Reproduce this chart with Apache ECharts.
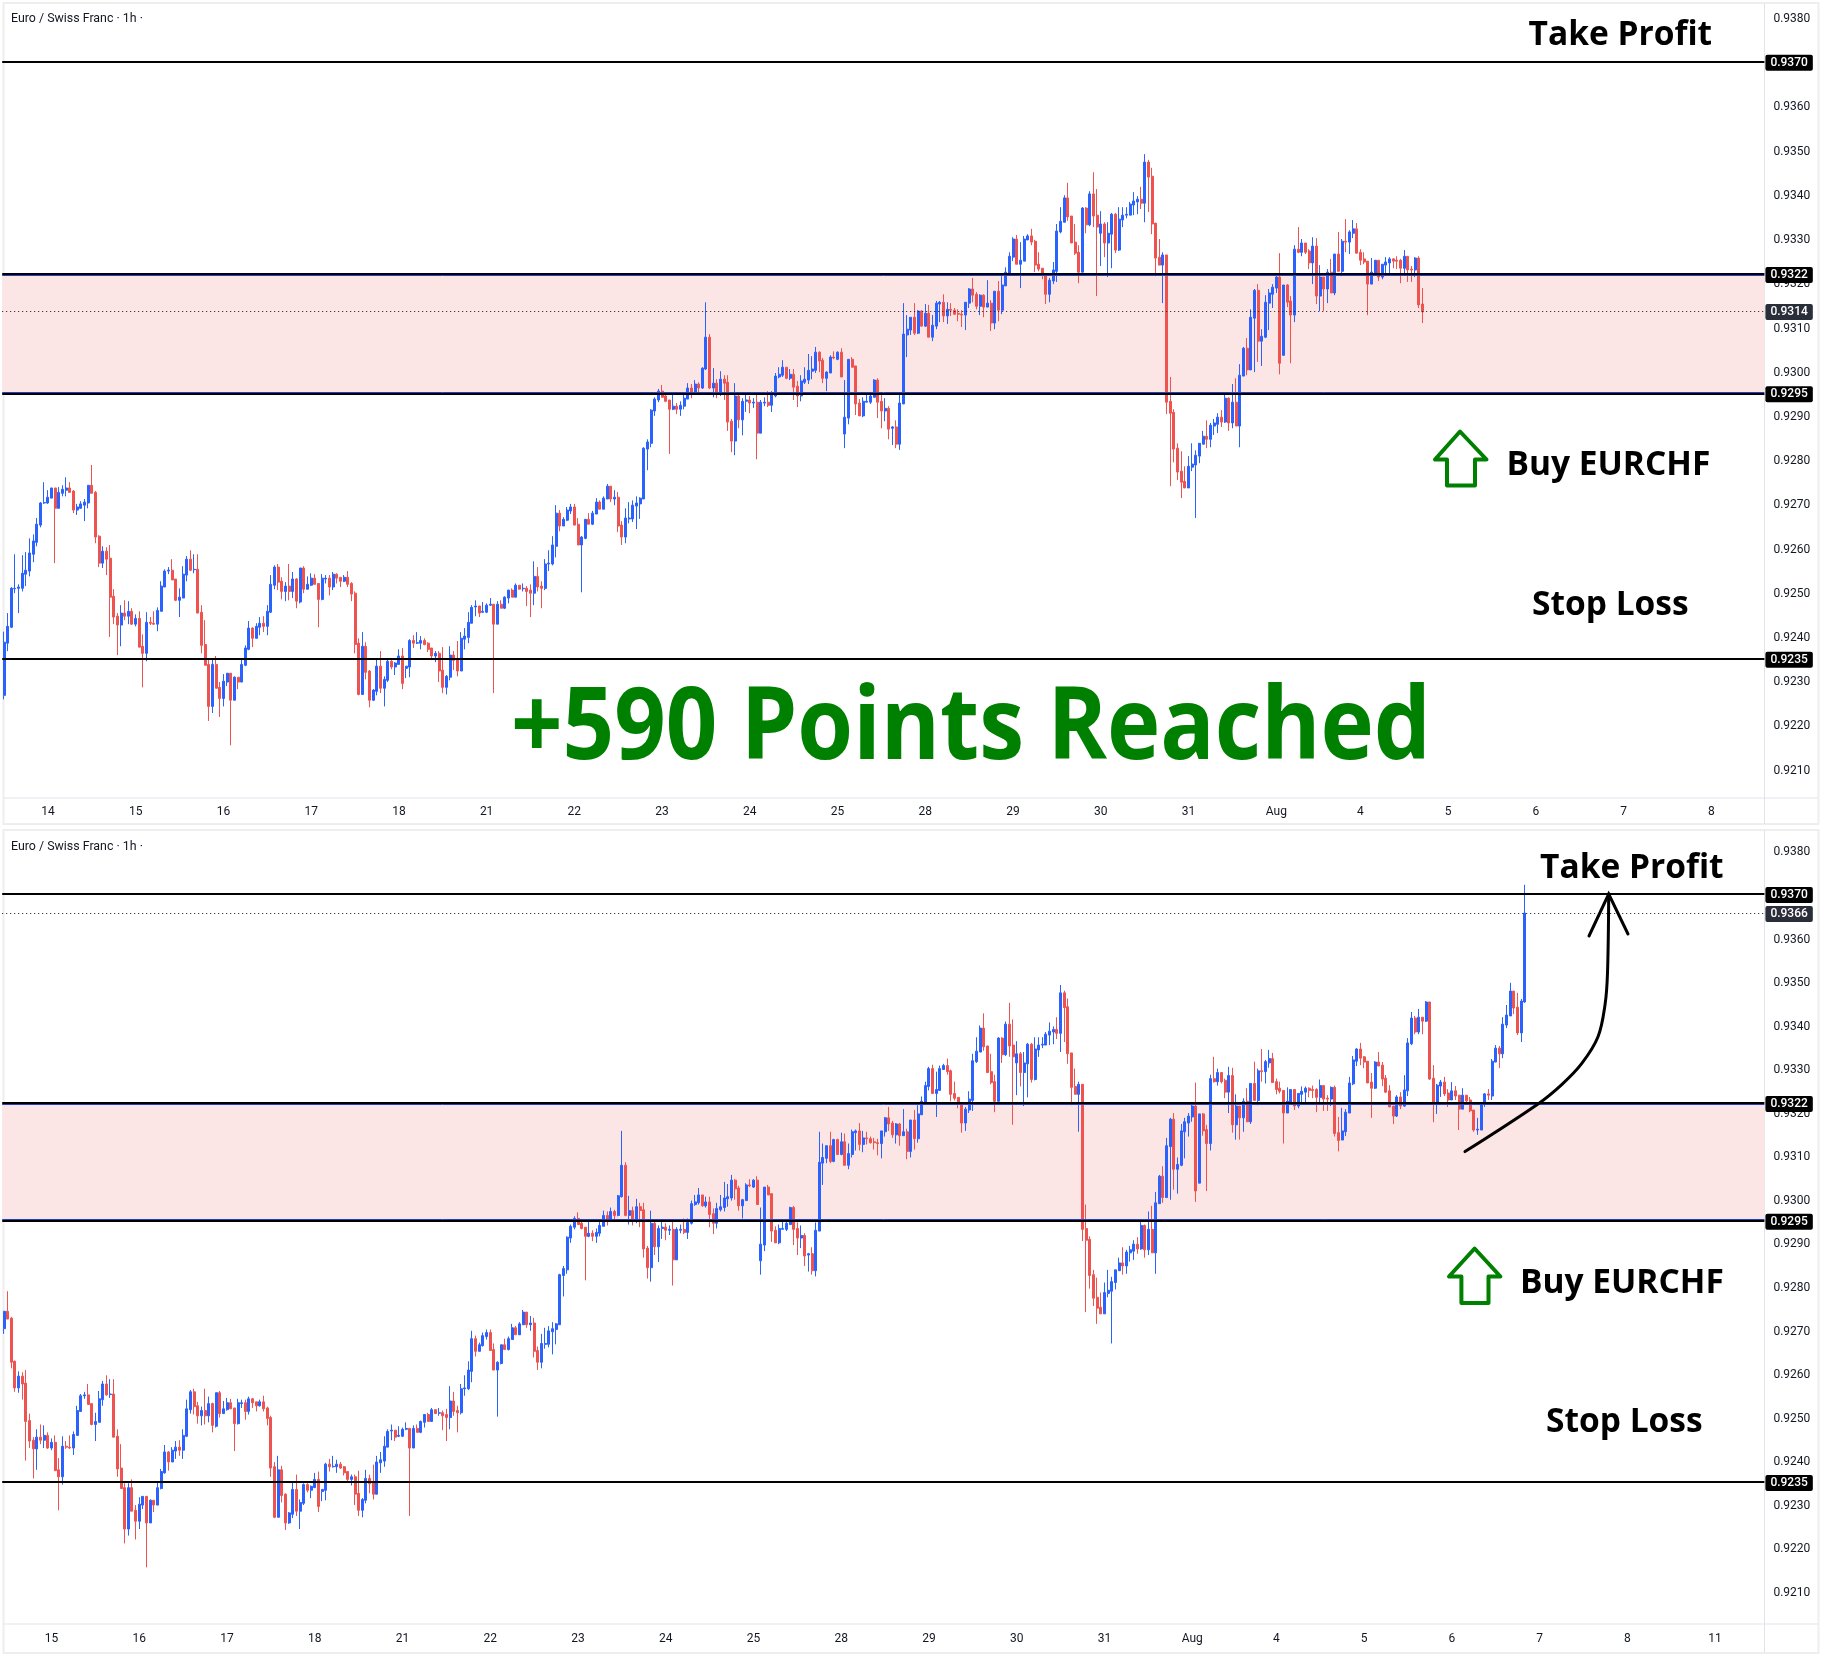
<!DOCTYPE html>
<html><head><meta charset="utf-8">
<style>html,body{margin:0;padding:0;background:#fff}#c{width:1824px;height:1655px}</style>
<script src="https://cdn.jsdelivr.net/npm/echarts@6/dist/echarts.min.js"></script>
</head><body><div id="c"></div>
<script>
// Hourly EUR/CHF candles: each row is [open, high, low, close]
const barsPart1 = [
[.92267,.92411,.92258,.92387],[.92385,.92453,.92367,.92423],[.92421,.92512,.92419,.92509],[.92508,.92586,.92498,.92509],[.92509,.92518,.92453,.92512],[.92509,.92584,.92502,.92543],[.92541,.92591,.92514,.92550],[.92548,.92622,.92536,.92589],[.92586,.92631,.92568,.92616],[.92613,.92668,.92604,.92654],
[.92652,.92704,.92647,.92702],[.92702,.92749,.92700,.92703],[.92702,.92731,.92700,.92715],[.92713,.92736,.92713,.92736],[.92736,.92736,.92566,.92690],[.92690,.92738,.92690,.92726],[.92724,.92742,.92717,.92733],[.92731,.92760,.92717,.92736],[.92736,.92749,.92726,.92726],[.92729,.92731,.92679,.92686],
[.92686,.92700,.92675,.92693],[.92690,.92706,.92690,.92700],[.92697,.92711,.92661,.92704],[.92702,.92742,.92690,.92742],[.92742,.92788,.92724,.92724],[.92726,.92729,.92611,.92625],[.92627,.92629,.92557,.92566],[.92566,.92604,.92555,.92593],[.92593,.92602,.92539,.92575],[.92577,.92607,.92399,.92489],
[.92491,.92507,.92428,.92444],[.92446,.92453,.92358,.92426],[.92426,.92471,.92378,.92453],[.92453,.92482,.92437,.92446],[.92446,.92480,.92428,.92457],[.92457,.92464,.92426,.92428],[.92428,.92450,.92423,.92441],[.92441,.92457,.92376,.92376],[.92378,.92405,.92285,.92362],[.92362,.92455,.92344,.92432],
[.92432,.92444,.92426,.92430],[.92430,.92457,.92426,.92428],[.92428,.92466,.92412,.92459],[.92457,.92525,.92457,.92514],[.92512,.92552,.92512,.92548],[.92548,.92557,.92541,.92550],[.92550,.92575,.92528,.92528],[.92530,.92530,.92480,.92482],[.92482,.92509,.92444,.92489],[.92487,.92559,.92487,.92541],
[.92539,.92582,.92525,.92575],[.92575,.92595,.92548,.92550],[.92551,.92586,.92543,.92552],[.92552,.92586,.92453,.92453],[.92455,.92471,.92362,.92380],[.92382,.92437,.92335,.92335],[.92337,.92347,.92209,.92242],[.92242,.92347,.92227,.92337],[.92337,.92356,.92283,.92283],[.92285,.92297,.92218,.92260]];
const barsPart2 = [
[.92260,.92315,.92242,.92299],[.92297,.92317,.92288,.92317],[.92317,.92317,.92154,.92256],[.92256,.92310,.92256,.92308],[.92308,.92308,.92281,.92297],[.92297,.92351,.92297,.92337],[.92335,.92380,.92333,.92374],[.92371,.92435,.92369,.92419],[.92419,.92421,.92376,.92396],[.92396,.92430,.92396,.92423],
[.92421,.92444,.92403,.92430],[.92430,.92446,.92410,.92423],[.92423,.92471,.92403,.92457],[.92455,.92539,.92453,.92518],[.92516,.92561,.92507,.92557],[.92557,.92564,.92505,.92523],[.92525,.92534,.92484,.92502],[.92502,.92523,.92480,.92514],[.92514,.92564,.92482,.92502],[.92502,.92546,.92487,.92530],
[.92530,.92532,.92464,.92480],[.92478,.92555,.92475,.92555],[.92555,.92559,.92498,.92507],[.92507,.92536,.92507,.92518],[.92516,.92543,.92514,.92532],[.92532,.92541,.92518,.92518],[.92520,.92520,.92421,.92484],[.92484,.92541,.92482,.92532],[.92530,.92539,.92520,.92532],[.92532,.92539,.92493,.92512],
[.92512,.92546,.92505,.92541],[.92541,.92543,.92520,.92532],[.92534,.92534,.92512,.92525],[.92525,.92539,.92523,.92534],[.92534,.92548,.92512,.92518],[.92520,.92523,.92480,.92496],[.92498,.92502,.92362,.92382],[.92385,.92396,.92267,.92269],[.92269,.92410,.92269,.92378],[.92378,.92387,.92303,.92319],
[.92322,.92324,.92240,.92256],[.92256,.92281,.92254,.92279],[.92276,.92349,.92267,.92333],[.92333,.92367,.92272,.92283],[.92283,.92310,.92242,.92303],[.92301,.92347,.92297,.92344],[.92344,.92347,.92326,.92331],[.92331,.92342,.92313,.92340],[.92337,.92371,.92337,.92356],[.92356,.92374,.92281,.92294],
[.92328,.92333,.92306,.92333],[.92331,.92394,.92308,.92391],[.92391,.92403,.92374,.92385],[.92385,.92410,.92383,.92386],[.92385,.92401,.92371,.92391],[.92391,.92396,.92380,.92382],[.92385,.92387,.92365,.92371],[.92374,.92374,.92349,.92356],[.92356,.92367,.92342,.92362],[.92362,.92367,.92297,.92322],
[.92324,.92376,.92272,.92285],[.92285,.92313,.92269,.92310],[.92308,.92378,.92301,.92358],[.92358,.92367,.92324,.92346],[.92348,.92390,.92310,.92322],[.92322,.92410,.92322,.92396],[.92394,.92419,.92371,.92401],[.92398,.92455,.92385,.92432],[.92430,.92471,.92430,.92466],[.92467,.92482,.92446,.92469],
[.92469,.92469,.92444,.92453],[.92455,.92478,.92453,.92457]];
const barsPart3 = [
[.92455,.92475,.92453,.92471],[.92471,.92487,.92469,.92473],[.92473,.92473,.92272,.92428],[.92428,.92480,.92428,.92473],[.92473,.92482,.92464,.92464],[.92464,.92491,.92462,.92489],[.92487,.92505,.92475,.92505],[.92505,.92509,.92489,.92489],[.92489,.92520,.92489,.92516],[.92516,.92516,.92507,.92507],
[.92508,.92520,.92502,.92509],[.92509,.92514,.92469,.92502],[.92505,.92518,.92444,.92498],[.92498,.92570,.92471,.92536],[.92536,.92557,.92502,.92512],[.92514,.92525,.92464,.92509],[.92509,.92575,.92505,.92564],[.92564,.92595,.92548,.92566],[.92564,.92627,.92561,.92607],[.92604,.92697,.92579,.92679],
[.92679,.92686,.92638,.92650],[.92650,.92670,.92650,.92665],[.92663,.92693,.92661,.92686],[.92684,.92700,.92677,.92693],[.92693,.92700,.92652,.92652],[.92654,.92668,.92607,.92607],[.92607,.92627,.92500,.92625],[.92622,.92665,.92620,.92665],[.92665,.92679,.92654,.92654],
[.92654,.92684,.92652,.92679],[.92677,.92713,.92677,.92704],[.92704,.92708,.92688,.92688],[.92688,.92717,.92688,.92713],[.92711,.92745,.92711,.92740],[.92740,.92740,.92704,.92711],[.92711,.92731,.92697,.92715],[.92715,.92727,.92636,.92650],[.92652,.92661,.92607,.92625],[.92625,.92690,.92611,.92668],
[.92666,.92704,.92656,.92668],[.92666,.92708,.92659,.92697],[.92695,.92717,.92643,.92702],[.92700,.92715,.92666,.92713],[.92711,.92828,.92711,.92826],[.92824,.92846,.92776,.92840],[.92837,.92914,.92828,.92912],[.92910,.92941,.92899,.92937],[.92935,.92960,.92930,.92955],[.92955,.92969,.92941,.92941]];
const barsPart4 = [
[.92944,.92950,.92930,.92932],[.92935,.92935,.92813,.92914],[.92914,.92948,.92912,.92921],[.92921,.92928,.92903,.92914],[.92914,.92932,.92899,.92923],[.92921,.92950,.92914,.92939],[.92937,.92973,.92937,.92962],[.92962,.92971,.92939,.92953],[.92953,.92980,.92948,.92971],[.92971,.92975,.92948,.92962],
[.92962,.93009,.92960,.93007],[.93005,.93156,.93003,.93077],[.93077,.93084,.92960,.92962],[.92962,.93007,.92941,.92973],[.92973,.92982,.92939,.92953],[.92953,.93000,.92944,.92982],[.92982,.92991,.92935,.92973],[.92975,.92991,.92865,.92885],[.92887,.92892,.92817,.92842],[.92842,.92973,.92810,.92944],
[.92944,.92948,.92871,.92890],[.92890,.92939,.92855,.92932],[.92932,.92950,.92908,.92935],[.92935,.92944,.92905,.92928],[.92928,.92939,.92917,.92930],[.92930,.92948,.92801,.92860],[.92860,.92935,.92860,.92930],[.92928,.92941,.92921,.92930],[.92930,.92955,.92919,.92923],[.92923,.92955,.92908,.92946],
[.92944,.92996,.92941,.92989],[.92987,.93009,.92984,.92993],[.92991,.93025,.92987,.93009],[.93009,.93009,.92982,.92984],[.92984,.93005,.92980,.92993],[.92993,.93005,.92935,.92964],[.92966,.92978,.92919,.92944],[.92944,.92991,.92932,.92978],[.92975,.93009,.92971,.92982],[.92980,.93039,.92971,.93002],
[.93000,.93034,.92982,.93005],[.93002,.93055,.92996,.93043],[.93043,.93045,.92998,.93023],[.93025,.93030,.92973,.92984],[.92984,.93000,.92955,.92998],[.92996,.93036,.92996,.93032],[.93032,.93045,.93027,.93030],[.93027,.93045,.93025,.93043],[.93043,.93052,.92987,.92987],[.92858,.92980,.92826,.92896],
[.92894,.93027,.92880,.93027],[.93027,.93032,.93009,.93009],[.93012,.93012,.92901,.92926],[.92928,.92937,.92899,.92899],[.92899,.92941,.92896,.92932],[.92930,.92950,.92930,.92932],[.92930,.92953,.92926,.92944],[.92941,.92982,.92941,.92980],[.92980,.92984,.92894,.92930]];
const barsPart5 = [
[.92932,.92946,.92871,.92910],[.92910,.92939,.92887,.92916],[.92916,.92921,.92846,.92869],[.92871,.92876,.92833,.92874],[.92874,.92889,.92826,.92835],[.92835,.92946,.92822,.92928],[.92926,.93154,.92926,.93084],[.93082,.93127,.93032,.93095],[.93093,.93122,.93082,.93122],[.93122,.93154,.93082,.93086],
[.93086,.93138,.93084,.93136],[.93136,.93138,.93102,.93102],[.93102,.93152,.93100,.93131],[.93131,.93150,.93077,.93077],[.93077,.93127,.93068,.93104],[.93102,.93159,.93095,.93154],[.93152,.93159,.93111,.93156],[.93156,.93174,.93111,.93125],[.93125,.93156,.93107,.93140],[.93140,.93154,.93125,.93138],
[.93138,.93143,.93127,.93129],[.93131,.93140,.93113,.93129],[.93129,.93138,.93100,.93127],[.93127,.93156,.93093,.93156],[.93154,.93188,.93143,.93186],[.93186,.93211,.93156,.93172],[.93174,.93179,.93140,.93147],[.93147,.93174,.93127,.93172],[.93172,.93174,.93122,.93145],[.93145,.93206,.93145,.93154],
[.93154,.93161,.93091,.93109],[.93109,.93181,.93095,.93181],[.93181,.93204,.93113,.93138],[.93138,.93215,.93129,.93195],[.93193,.93235,.93193,.93224],[.93222,.93269,.93217,.93260],[.93258,.93303,.93249,.93299],[.93299,.93308,.93242,.93242],[.93242,.93292,.93188,.93251],[.93249,.93306,.93249,.93299],
[.93297,.93310,.93297,.93306],[.93306,.93322,.93285,.93292],[.93294,.93297,.93224,.93240],[.93242,.93269,.93226,.93231],[.93233,.93233,.93208,.93217],[.93220,.93220,.93152,.93174],[.93174,.93211,.93156,.93206],[.93204,.93247,.93197,.93229],[.93226,.93333,.93202,.93317],[.93315,.93371,.93312,.93339],
[.93337,.93398,.93337,.93392],[.93392,.93426,.93340,.93349],[.93351,.93351,.93290,.93290],[.93292,.93333,.93263,.93267],[.93269,.93285,.93199,.93224],[.93224,.93371,.93224,.93369],[.93369,.93371,.93312,.93331],[.93331,.93407,.93328,.93401],[.93401,.93450,.93326,.93351],[.93353,.93412,.93170,.93326],
[.93312,.93362,.93238,.93333],[.93333,.93337,.93258,.93290],[.93290,.93337,.93213,.93312],[.93310,.93358,.93233,.93355],[.93355,.93358,.93267,.93274],[.93274,.93371,.93272,.93344],[.93342,.93371,.93326,.93353],[.93353,.93371,.93346,.93355],[.93353,.93383,.93353,.93378],[.93376,.93405,.93353,.93385],
[.93383,.93396,.93355,.93389],[.93389,.93417,.93367,.93380],[.93380,.93491,.93337,.93473],[.93473,.93478,.93360,.93439],[.93441,.93460,.93310,.93333],[.93335,.93335,.93215,.93256],[.93258,.93299,.93240,.93240],[.93240,.93269,.93154,.93263],[.93263,.93263,.92903,.92930]];
const barsPart6 = [
[.92932,.92987,.92740,.92905],[.92907,.92914,.92794,.92824],[.92826,.92837,.92754,.92772],[.92774,.92819,.92713,.92749],[.92751,.92785,.92736,.92736],[.92736,.92808,.92736,.92785],[.92783,.92837,.92774,.92790],[.92788,.92821,.92668,.92810],[.92808,.92837,.92792,.92837],[.92835,.92865,.92835,.92853],
[.92853,.92889,.92826,.92846],[.92846,.92883,.92828,.92878],[.92876,.92892,.92856,.92883],[.92880,.92905,.92860,.92896],[.92896,.92912,.92874,.92885],[.92885,.92953,.92883,.92939],[.92939,.92941,.92865,.92883],[.92883,.92971,.92871,.92930],[.92930,.92984,.92876,.92876],[.92876,.93016,.92828,.92991],
[.92989,.93055,.92989,.93052],[.93052,.93075,.92991,.93003],[.93003,.93140,.93003,.93122],[.93120,.93186,.92998,.93183],[.93183,.93197,.93021,.93068],[.93068,.93095,.93012,.93079],[.93077,.93172,.93075,.93156],[.93154,.93186,.93093,.93177],[.93174,.93197,.93143,.93190],[.93188,.93217,.93177,.93213],
[.93213,.93267,.92993,.93018],[.93036,.93195,.93036,.93195],[.93195,.93197,.93145,.93156],[.93159,.93170,.93018,.93127],[.93127,.93285,.93111,.93276],[.93276,.93326,.93267,.93269],[.93269,.93299,.93260,.93290],[.93290,.93290,.93265,.93269],[.93272,.93276,.93231,.93245],[.93245,.93303,.93197,.93283],
[.93283,.93301,.93152,.93170],[.93170,.93240,.93136,.93213],[.93213,.93213,.93136,.93186],[.93186,.93231,.93154,.93224],[.93224,.93254,.93177,.93177],[.93177,.93265,.93172,.93265],[.93265,.93315,.93226,.93226],[.93226,.93299,.93215,.93294],[.93294,.93344,.93269,.93292],[.93292,.93319,.93265,.93315],
[.93312,.93342,.93301,.93322],[.93322,.93335,.93267,.93267],[.93269,.93276,.93240,.93251],[.93254,.93269,.93242,.93247],[.93249,.93249,.93127,.93197],[.93197,.93256,.93197,.93224],[.93220,.93251,.93220,.93251],[.93251,.93251,.93204,.93213],[.93213,.93242,.93208,.93242],[.93240,.93258,.93220,.93247],
[.93245,.93258,.93222,.93254],[.93254,.93256,.93233,.93249],[.93251,.93260,.93231,.93249],[.93251,.93254,.93199,.93233],[.93233,.93274,.93217,.93260],[.93260,.93260,.93202,.93229],[.93231,.93238,.93202,.93229],[.93229,.93258,.93213,.93256],[.93256,.93260,.93143,.93150],[.93152,.93188,.93109,.93134]];
const barsPart7 = [
[.93135,.93209,.93135,.93156],[.93154,.93206,.93144,.93199],[.93197,.93280,.93197,.93266],[.93264,.93328,.93261,.93319],[.93316,.93346,.93305,.93344],[.93344,.93358,.93307,.93323],[.93326,.93328,.93300,.93314],[.93316,.93316,.93266,.93266],[.93268,.93289,.93186,.93254],[.93254,.93316,.93252,.93314],
[.93314,.93337,.93305,.93305],[.93307,.93314,.93259,.93275],[.93277,.93284,.93243,.93245],[.93248,.93261,.93211,.93211],[.93213,.93213,.93172,.93190],[.93190,.93238,.93188,.93234],[.93234,.93245,.93206,.93213],[.93213,.93284,.93211,.93250],[.93248,.93369,.93236,.93358],[.93356,.93429,.93353,.93415],
[.93415,.93420,.93378,.93383],[.93383,.93436,.93378,.93417],[.93417,.93417,.93378,.93408],[.93408,.93454,.93406,.93452],[.93452,.93452,.93273,.93275],[.93277,.93307,.93176,.93220],[.93220,.93264,.93195,.93261],[.93259,.93273,.93234,.93268],[.93268,.93280,.93236,.93241],[.93243,.93252,.93211,.93227],
[.93227,.93268,.93227,.93248],[.93248,.93259,.93227,.93236],[.93238,.93238,.93158,.93206],[.93206,.93254,.93206,.93238],[.93238,.93238,.93218,.93225],[.93227,.93234,.93199,.93202],[.93204,.93204,.93154,.93158],[.93158,.93186,.93147,.93160],[.93158,.93222,.93158,.93220],[.93218,.93243,.93211,.93241],
[.93241,.93252,.93227,.93238],[.93236,.93321,.93227,.93316],[.93314,.93353,.93314,.93346],[.93346,.93351,.93300,.93333],[.93333,.93417,.93323,.93401],[.93399,.93445,.93392,.93422],[.93420,.93496,.93420,.93477],[.93477,.93477,.93424,.93438],[.93440,.93473,.93376,.93381],[.93381,.93459,.93360,.93454],[.93452,.93721,.93450,.93656]];

// Axis values
const priceTicks = [.921,.922,.923,.924,.925,.926,.927,.928,.929,.93,.931,.932,.933,.934,.935,.936,.937,.938];
const dayTickBars = [12,36,60,84,108,132,156,180,204,228,252,276,300,324,348,371,395,419,443,467,491];
const dayTickLabels = ['14','15','16','17','18','21','22','23','24','25','28','29','30','31','Aug','4','5','6','7','8','11'];
// Drawn levels
const takeProfit = .9370, zoneTop = .9322, zoneBottom = .9295, stopLoss = .9235;
const lastPriceTop = .93136, lastPriceBottom = .93656;
const topFirstBar = 0, topLastBar = 388, bottomFirstBar = 23, bottomLastBar = 439;

const allBars = [].concat(barsPart1, barsPart2, barsPart3, barsPart4, barsPart5, barsPart6, barsPart7);
const SLOTS = 482, SLOT_W = 3.656, GRID_LEFT = 2.2;
const FONT = 'Roboto, sans-serif';
const INK = '#131722', EDGE = '#e0e3eb', UP = '#2962FF', DOWN = '#EF5350', GREEN = '#008000';

function cats(first){ const a=[]; for(let i=0;i<SLOTS;i++){ const k=dayTickBars.indexOf(first+i); a.push(k>=0?dayTickLabels[k]:''); } return a; }
function candles(first,last){ return allBars.slice(first,last+1).map(r=>[r[0],r[3],r[2],r[1]]); }
function tag(v,bg){ return {show:true,position:'end',distance:1,offset:[0,1],formatter:()=>v.toFixed(4),backgroundColor:bg,color:'#fff',fontFamily:FONT,fontSize:12,fontWeight:500,padding:[2,5,2,5],borderRadius:2}; }
function level(v,color){ return {yAxis:v,lineStyle:{color:color,width:2,type:'solid'},label:tag(v,'#000')}; }
function edge(v){ return {yAxis:v,lineStyle:{color:'#2340c8',width:1,type:'solid'},label:{show:false}}; }
function series(i,first,last,lastPrice){
  return {type:'candlestick',xAxisIndex:i,yAxisIndex:i,barWidth:2.5,clip:true,silent:true,data:candles(first,last),
    itemStyle:{color:UP,color0:DOWN,borderColor:UP,borderColor0:DOWN,borderWidth:1},
    markArea:{silent:true,itemStyle:{color:'#fce5e5'},data:[[{yAxis:zoneTop},{yAxis:zoneBottom}]]},
    markLine:{silent:true,symbol:'none',precision:5,animation:false,data:[
      {yAxis:lastPrice,lineStyle:{color:INK,width:1,type:[1,3]},label:tag(lastPrice,'#2a2e39')},
      edge(zoneTop-.00003),edge(zoneBottom+.00003),
      level(takeProfit,'#000'),level(zoneTop,'#000'),level(zoneBottom,'#000'),level(stopLoss,'#000')]}};
}
function xAxis(i,first,margin){ return {type:'category',gridIndex:i,data:cats(first),boundaryGap:true,axisLine:{show:false},axisTick:{show:false},splitLine:{show:false},
  axisLabel:{interval:(idx,val)=>val!=='',color:INK,fontFamily:FONT,fontSize:12,margin:margin}}; }
function yAxis(i,min,max,pad){ return {type:'value',gridIndex:i,position:'right',min:min,max:max,scale:true,axisLine:{show:false},axisTick:{show:false},splitLine:{show:false},
  axisLabel:{customValues:priceTicks,formatter:v=>'{t|'+v.toFixed(4)+'}',margin:9,rich:{t:{color:INK,fontFamily:FONT,fontSize:12,padding:[pad,0,0,0]}}}}; }
function txt(t,x,y,size,fill,sx){ return {type:'text',z:100,x:x,y:y,scaleX:sx||1,style:{text:t,x:0,y:0,fill:fill||'#000',fontFamily:'"Open Sans", sans-serif',fontWeight:'bold',fontSize:size,align:'left',verticalAlign:'middle'}}; }
function hdr(y){ return {type:'text',z:100,style:{text:'Euro / Swiss Franc · 1h ·',x:11,y:y,fill:INK,fontFamily:FONT,fontSize:12.4,align:'left',verticalAlign:'middle'}}; }
function seg(x1,y1,x2,y2){ return {type:'line',z:1,shape:{x1,y1,x2,y2},style:{stroke:EDGE,lineWidth:1}}; }
function frame(y,h){ return {type:'rect',z:0,shape:{x:3.5,y:y,width:1815,height:h},style:{fill:null,stroke:'#eeeeee',lineWidth:2}}; }
function upArrow(pts){ return {type:'polygon',z:100,shape:{points:pts},style:{fill:null,stroke:GREEN,lineWidth:4,lineJoin:'round'}}; }

const graphicEls = [
  frame(3,821),frame(830,823),
  seg(1764.5,3,1764.5,824),seg(1764.5,830,1764.5,1653),seg(4,798,1818,798),seg(4,1624,1818,1624),
  hdr(18.5),hdr(847),
  txt('Take Profit',1528.5,35,33.5),txt('Buy EURCHF',1506.5,465,33.5),txt('Stop Loss',1532,605,33.5),
  txt('+590 Points Reached',511,731,100,GREEN,.902),
  upArrow([[1460,431.5],[1435,459.5],[1447,459.5],[1447,485.5],[1475,485.5],[1475,459.5],[1486.5,459.5]]),
  txt('Take Profit',1540,868,33.5),txt('Buy EURCHF',1520,1283,33.5),txt('Stop Loss',1546,1422,33.5),
  upArrow([[1474.6,1248.5],[1449,1276.5],[1461.4,1276.5],[1461.4,1303],[1488.5,1303],[1488.5,1276.5],[1500.4,1276.5]]),
  {type:'polyline',z:100,shape:{points:[[1465,1151.6],[1538,1104],[1562,1084.4],[1582,1063.2],[1598,1036.8],[1605,1005],[1607.5,973],[1608.7,894]],smooth:0.35},style:{fill:null,stroke:'#000',lineWidth:3,lineCap:'round'}},
  {type:'polyline',z:100,shape:{points:[[1589,936],[1608.7,894],[1628,934]]},style:{fill:null,stroke:'#000',lineWidth:3,lineCap:'round'}}
];

const chart = echarts.init(document.getElementById('c'),null,{renderer:'canvas',width:1824,height:1655});
chart.setOption({
  animation:false,backgroundColor:'#fff',
  grid:[{left:GRID_LEFT,top:3,width:SLOTS*SLOT_W,height:795},{left:GRID_LEFT,top:832,width:SLOTS*SLOT_W,height:792}],
  xAxis:[xAxis(0,topFirstBar,8),xAxis(1,bottomFirstBar,9)],
  yAxis:[yAxis(0,.920348,.938328,3),yAxis(1,.92024,.938422,4)],
  series:[series(0,topFirstBar,topLastBar,lastPriceTop),series(1,bottomFirstBar,bottomLastBar,lastPriceBottom)],
  graphic:{elements:graphicEls}
});
</script>
</body></html>
